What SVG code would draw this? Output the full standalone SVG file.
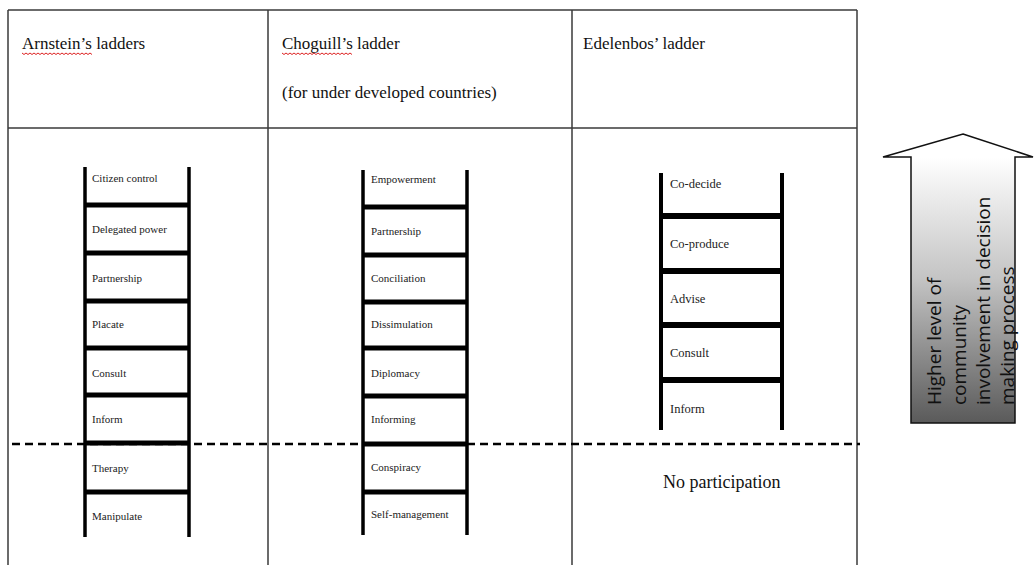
<svg xmlns="http://www.w3.org/2000/svg" width="1034" height="565" viewBox="0 0 1034 565">
<style>
.grid{stroke:#3a3a3a;stroke-width:1.5;fill:none}
.hdr{font-family:"Liberation Serif","Times New Roman",serif;font-size:17px;fill:#111}
.lbl{font-family:"Liberation Serif","Times New Roman",serif;font-size:11px;fill:#222}
.lbl2{font-family:"Liberation Serif","Times New Roman",serif;font-size:12.5px;fill:#222}
.rail{stroke:#000;stroke-width:3.5;fill:none}
.rung{stroke:#000;stroke-width:5;fill:none}
.rail2{stroke:#000;stroke-width:4;fill:none}
.rung2{stroke:#000;stroke-width:6;fill:none}
.dash{stroke:#000;stroke-width:2.5;stroke-dasharray:8 5;fill:none}
.spell{stroke:#d22;stroke-width:1;fill:none}
.arrtxt{font-family:"Open Sans","Noto Sans",sans-serif;font-size:19px;fill:#111}
</style>
<defs>
<linearGradient id="shade" x1="0" y1="134" x2="0" y2="423" gradientUnits="userSpaceOnUse">
<stop offset="0.08" stop-color="#ffffff"/>
<stop offset="0.5" stop-color="#c4c4c4"/>
<stop offset="1" stop-color="#5a5a5a"/>
</linearGradient>
</defs>
<rect width="1034" height="565" fill="#fff"/>
<g id="table">
<line class="grid" x1="8" y1="10" x2="857" y2="10"/>
<line class="grid" x1="8" y1="128" x2="857" y2="128"/>
<line class="grid" x1="8" y1="10" x2="8" y2="565"/>
<line class="grid" x1="268" y1="10" x2="268" y2="565"/>
<line class="grid" x1="572" y1="10" x2="572" y2="565"/>
<line class="grid" x1="857" y1="10" x2="857" y2="565"/>
</g>
<g id="header-arnstein">
<text class="hdr" x="22" y="49">Arnstein’s ladders</text>
<path class="spell" d="M22 53 l2 1.5 l2 -1.5 l2 1.5 l2 -1.5 l2 1.5 l2 -1.5 l2 1.5 l2 -1.5 l2 1.5 l2 -1.5 l2 1.5 l2 -1.5 l2 1.5 l2 -1.5 l2 1.5 l2 -1.5 l2 1.5 l2 -1.5 l2 1.5 l2 -1.5 l2 1.5 l2 -1.5 l2 1.5 l2 -1.5 l2 1.5 l2 -1.5 l2 1.5 l2 -1.5 l2 1.5 l2 -1.5 l2 1.5 l2 -1.5 l2 1.5 l2 -1.5 l2 1.5"/>
</g>
<g id="header-choguill">
<text class="hdr" x="282" y="49">Choguill’s ladder</text>
<text class="hdr" x="282" y="98">(for under developed countries)</text>
<path class="spell" d="M282 53 l2 1.5 l2 -1.5 l2 1.5 l2 -1.5 l2 1.5 l2 -1.5 l2 1.5 l2 -1.5 l2 1.5 l2 -1.5 l2 1.5 l2 -1.5 l2 1.5 l2 -1.5 l2 1.5 l2 -1.5 l2 1.5 l2 -1.5 l2 1.5 l2 -1.5 l2 1.5 l2 -1.5 l2 1.5 l2 -1.5 l2 1.5 l2 -1.5 l2 1.5 l2 -1.5 l2 1.5 l2 -1.5 l2 1.5 l2 -1.5 l2 1.5 l2 -1.5 l2 1.5"/>
</g>
<g id="header-edelenbos">
<text class="hdr" x="583" y="49">Edelenbos’ ladder</text>
</g>
<g id="ladder-arnstein">
<line class="rail" x1="85" y1="167" x2="85" y2="537"/>
<line class="rail" x1="189" y1="167" x2="189" y2="537"/>
<line class="rung" x1="85" y1="205" x2="189" y2="205"/>
<line class="rung" x1="85" y1="253" x2="189" y2="253"/>
<line class="rung" x1="85" y1="301" x2="189" y2="301"/>
<line class="rung" x1="85" y1="348" x2="189" y2="348"/>
<line class="rung" x1="85" y1="395" x2="189" y2="395"/>
<line class="rung" x1="85" y1="443" x2="189" y2="443"/>
<line class="rung" x1="85" y1="492" x2="189" y2="492"/>
<text class="lbl" x="92" y="182">Citizen control</text>
<text class="lbl" x="92" y="233">Delegated power</text>
<text class="lbl" x="92" y="282">Partnership</text>
<text class="lbl" x="92" y="328">Placate</text>
<text class="lbl" x="92" y="377">Consult</text>
<text class="lbl" x="92" y="423">Inform</text>
<text class="lbl" x="92" y="472">Therapy</text>
<text class="lbl" x="92" y="520">Manipulate</text>
</g>
<g id="ladder-choguill">
<line class="rail" x1="363" y1="170" x2="363" y2="535"/>
<line class="rail" x1="467" y1="170" x2="467" y2="535"/>
<line class="rung" x1="363" y1="207" x2="467" y2="207"/>
<line class="rung" x1="363" y1="255" x2="467" y2="255"/>
<line class="rung" x1="363" y1="302" x2="467" y2="302"/>
<line class="rung" x1="363" y1="348" x2="467" y2="348"/>
<line class="rung" x1="363" y1="396" x2="467" y2="396"/>
<line class="rung" x1="363" y1="444" x2="467" y2="444"/>
<line class="rung" x1="363" y1="492" x2="467" y2="492"/>
<text class="lbl" x="371" y="183">Empowerment</text>
<text class="lbl" x="371" y="235">Partnership</text>
<text class="lbl" x="371" y="282">Conciliation</text>
<text class="lbl" x="371" y="328">Dissimulation</text>
<text class="lbl" x="371" y="377">Diplomacy</text>
<text class="lbl" x="371" y="423">Informing</text>
<text class="lbl" x="371" y="471">Conspiracy</text>
<text class="lbl" x="371" y="518">Self-management</text>
</g>
<g id="ladder-edelenbos">
<line class="rail2" x1="661" y1="173" x2="661" y2="430"/>
<line class="rail2" x1="782" y1="173" x2="782" y2="430"/>
<line class="rung2" x1="661" y1="216" x2="782" y2="216"/>
<line class="rung2" x1="661" y1="271" x2="782" y2="271"/>
<line class="rung2" x1="661" y1="325" x2="782" y2="325"/>
<line class="rung2" x1="661" y1="380" x2="782" y2="380"/>
<text class="lbl2" x="670" y="188">Co-decide</text>
<text class="lbl2" x="670" y="248">Co-produce</text>
<text class="lbl2" x="670" y="303">Advise</text>
<text class="lbl2" x="670" y="357">Consult</text>
<text class="lbl2" x="670" y="413">Inform</text>
</g>
<g id="no-participation">
<text x="663" y="488" font-family="'Liberation Serif','Times New Roman',serif" font-size="18" fill="#111">No participation</text>
</g>
<g id="connectors">
<line class="dash" x1="12" y1="444" x2="860" y2="444"/>
</g>
<g id="arrow">
<polygon points="963,134 1033,157 1015,157 1015,423 911,423 911,157 883,157" fill="url(#shade)" stroke="#111" stroke-width="1.5" stroke-linejoin="miter"/>
<text class="arrtxt" transform="translate(941,405) rotate(-90)">Higher level of</text>
<text class="arrtxt" transform="translate(966,405) rotate(-90)">community</text>
<text class="arrtxt" transform="translate(990,405) rotate(-90)">involvement in decision</text>
<text class="arrtxt" transform="translate(1014,405) rotate(-90)">making process</text>
</g>
</svg>
